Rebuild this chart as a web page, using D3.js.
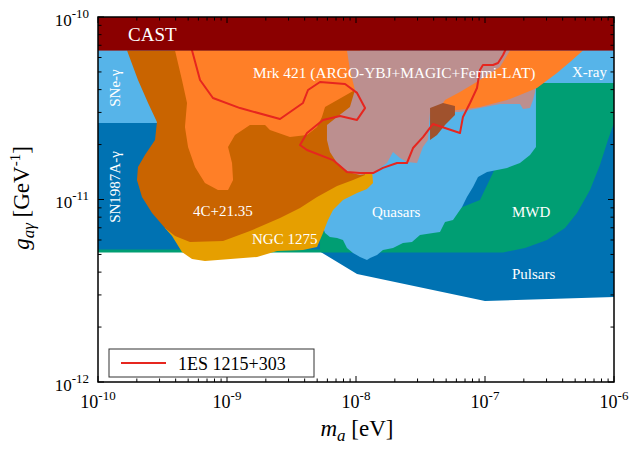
<!DOCTYPE html>
<html><head><meta charset="utf-8">
<script src="https://cdn.jsdelivr.net/npm/d3@7"></script>
<style>body{margin:0;background:#fff}svg{display:block}text{font-family:"Liberation Serif","Times New Roman",serif}</style>
</head><body><svg id="c" width="640" height="450"></svg>
<script>
// ---- data: vertices as [log10(m_a / eV), log10(g / GeV^-1)] ----
const xDomain = [1e-10, 1e-6];
const yDomain = [1e-12, 1e-10];
const xMajor = [-10, -9, -8, -7, -6];
const yMajor = [-12, -11, -10];

const castLimit = -10.184;

const pulsars = [[-10,-10.184],[-6,-10.184],[-6,-11.534],[-7,-11.556],[-7.992,-11.408],[-8.287,-11.282],[-10,-11.282]];

const mwd = [[-10,-11.274],[-10,-11.290],[-6.860,-11.290],[-6.690,-11.266],[-6.519,-11.222],[-6.380,-11.156],[-6.287,-11.074],[-6.186,-10.948],[-6.109,-10.811],[-6.047,-10.674],[-6,-10.581],[-6,-10.362],[-6.605,-10.362],[-7.039,-11.003],[-7.659,-11.178],[-8.279,-11.178],[-8.279,-11.274]];

const lightBlue = [[-10,-10.184],[-6,-10.184],[-6,-10.362],[-6.605,-10.362],[-6.605,-10.712],[-6.651,-10.756],[-6.729,-10.800],[-6.829,-10.827],[-6.984,-10.849],[-7.054,-10.877],[-7.093,-10.932],[-7.140,-10.986],[-7.178,-11.041],[-7.248,-11.112],[-7.310,-11.123],[-7.349,-11.178],[-7.403,-11.184],[-7.504,-11.195],[-7.566,-11.233],[-7.636,-11.238],[-7.713,-11.266],[-7.791,-11.277],[-7.837,-11.304],[-7.891,-11.321],[-7.915,-11.332],[-7.969,-11.315],[-8.023,-11.293],[-8.070,-11.266],[-8.101,-11.222],[-8.147,-11.211],[-8.202,-11.205],[-8.240,-11.184],[-8.279,-11.112],[-8.822,-10.893],[-9.519,-10.581],[-10,-10.581]];

const ngc1275 = [[-9.481,-11.156],[-9.426,-11.200],[-9.349,-11.288],[-9.271,-11.326],[-9.171,-11.337],[-8.767,-11.315],[-8.612,-11.282],[-8.411,-11.277],[-8.302,-11.260],[-8.256,-11.184],[-8.217,-11.112],[-8.178,-11.058],[-8.101,-11.003],[-7.992,-10.964],[-7.915,-10.942],[-7.868,-10.910],[-7.876,-10.838],[-8.434,-10.948],[-9.209,-11.112]];

const c4_2135 = [[-9.775,-10.184],[-7.969,-10.184],[-7.930,-10.564],[-7.930,-10.866],[-8.023,-10.893],[-8.147,-10.926],[-8.302,-10.986],[-8.434,-11.047],[-8.589,-11.101],[-8.822,-11.173],[-9.031,-11.227],[-9.287,-11.233],[-9.403,-11.200],[-9.481,-11.156],[-9.581,-11.074],[-9.659,-10.986],[-9.698,-10.893],[-9.690,-10.822],[-9.636,-10.756],[-9.558,-10.674],[-9.543,-10.575],[-9.612,-10.471],[-9.690,-10.345]];

const mrk421Low = [[-9.403,-10.184],[-7.969,-10.184],[-8.008,-10.400],[-8.240,-10.493],[-8.264,-10.548],[-8.302,-10.603],[-8.380,-10.647],[-8.512,-10.658],[-8.667,-10.619],[-8.705,-10.592],[-8.822,-10.592],[-8.938,-10.647],[-8.992,-10.712],[-8.961,-10.800],[-8.953,-10.893],[-8.992,-10.948],[-9.070,-10.948],[-9.171,-10.910],[-9.248,-10.822],[-9.302,-10.712],[-9.326,-10.603],[-9.310,-10.471],[-9.349,-10.345]];

const pinkRegion = [[-8.070,-10.184],[-6.605,-10.184],[-6.605,-10.362],[-6.612,-10.411],[-6.628,-10.455],[-6.651,-10.499],[-6.705,-10.504],[-6.729,-10.477],[-6.884,-10.477],[-7.194,-10.521],[-7.426,-10.521],[-7.442,-10.674],[-7.481,-10.712],[-7.527,-10.800],[-7.605,-10.795],[-7.659,-10.773],[-7.713,-10.740],[-7.760,-10.800],[-7.868,-10.855],[-7.969,-10.866],[-8.062,-10.849],[-8.147,-10.800],[-8.202,-10.740],[-8.225,-10.674],[-8.225,-10.592],[-8.147,-10.548],[-8.047,-10.493],[-8.008,-10.400],[-8.047,-10.290]];

const mrk421High = [[-6.806,-10.184],[-6.240,-10.184],[-6.341,-10.247],[-6.442,-10.307],[-6.597,-10.389],[-6.729,-10.427],[-6.829,-10.455],[-7.039,-10.493],[-7.271,-10.515],[-7.349,-10.499],[-7.310,-10.455],[-7.194,-10.411],[-7.039,-10.345],[-6.884,-10.274]];

const overlap = [[-7.426,-10.499],[-7.326,-10.471],[-7.233,-10.488],[-7.233,-10.537],[-7.310,-10.592],[-7.372,-10.647],[-7.426,-10.674]];

const es1215 = [[-9.271,-10.126],[-9.271,-10.184],[-9.209,-10.345],[-9.109,-10.444],[-8.899,-10.499],[-8.589,-10.559],[-8.411,-10.471],[-8.372,-10.400],[-8.279,-10.356],[-8.085,-10.367],[-7.992,-10.416],[-7.930,-10.499],[-7.992,-10.564],[-8.124,-10.542],[-8.256,-10.564],[-8.380,-10.636],[-8.434,-10.701],[-8.380,-10.729],[-8.178,-10.784],[-8.070,-10.849],[-7.969,-10.855],[-7.868,-10.855],[-7.791,-10.827],[-7.682,-10.800],[-7.605,-10.800],[-7.558,-10.718],[-7.481,-10.658],[-7.403,-10.586],[-7.333,-10.603],[-7.194,-10.636],[-7.171,-10.548],[-7.116,-10.471],[-7.062,-10.389],[-7.039,-10.290],[-7.016,-10.263],[-6.938,-10.263],[-6.899,-10.252],[-6.860,-10.208],[-6.806,-10.126]];

const colors = {pulsars:"#0072B2", mwd:"#009E73", light:"#56B4E9", ngc:"#E69F00", c4:"#C96400", mrk:"#FF7F27", pink:"#BC8F8F", overlap:"#A0522D", cast:"#8B0000", line:"#E6261F"};

// ---- drawing ----
const svg = d3.select("#c");
const L=98, R=614, T=17, B=382;
const xs = d3.scaleLog().domain(xDomain).range([L,R]);
const ys = d3.scaleLog().domain(yDomain).range([B,T]);
const line = d3.line().x(d=>xs(Math.pow(10,d[0]))).y(d=>ys(Math.pow(10,d[1])));

svg.append("clipPath").attr("id","pc").append("rect").attr("x",L).attr("y",T).attr("width",R-L).attr("height",B-T);
const g = svg.append("g").attr("clip-path","url(#pc)");
function poly(pts, col){ g.append("path").attr("d", line(pts)+"Z").attr("fill", col).attr("stroke","none"); }
poly(pulsars, colors.pulsars);
poly(mwd, colors.mwd);
poly(lightBlue, colors.light);
poly(ngc1275, colors.ngc);
poly(c4_2135, colors.c4);
poly(mrk421Low, colors.mrk);
poly(pinkRegion, colors.pink);
poly(mrk421High, colors.mrk);
poly(overlap, colors.overlap);
g.append("path").attr("d", line(es1215)).attr("fill","none").attr("stroke",colors.line).attr("stroke-width",2).attr("stroke-linejoin","round");
g.append("rect").attr("x",L).attr("y",ys(1e-10)).attr("width",R-L).attr("height",ys(Math.pow(10,castLimit))-ys(1e-10)).attr("fill",colors.cast);

// region labels
function lab(txt,x,y,size,rot){
  const t = svg.append("text").attr("fill","#fff").attr("font-size",size).text(txt);
  if(rot){ t.attr("transform",`translate(${x},${y}) rotate(-90)`).attr("text-anchor","middle"); }
  else t.attr("x",x).attr("y",y);
}
lab("CAST",128,41,19);
lab("Mrk 421 (ARGO-YBJ+MAGIC+Fermi-LAT)",253,78,15.4);
lab("X-ray",572,77,15);
lab("SNe-\u03B3",120,88,15,true);
lab("SN1987A-\u03B3",120,187,15,true);
lab("4C+21.35",193,216,15);
lab("NGC 1275",252,244,15);
lab("Quasars",372,217,15);
lab("MWD",512,217,15);
lab("Pulsars",512,279,15);

// ticks
const ax = svg.append("g").attr("stroke","#000").attr("stroke-width",1);
const xt = xs.ticks(), yt = ys.ticks();
const isMaj = v => Math.abs(Math.log10(v)-Math.round(Math.log10(v)))<1e-6;
xt.forEach(v=>{ const x=xs(v), l=isMaj(v)?6:3.5;
  ax.append("line").attr("x1",x).attr("x2",x).attr("y1",B).attr("y2",B-l);
  ax.append("line").attr("x1",x).attr("x2",x).attr("y1",T).attr("y2",T+l);});
yt.forEach(v=>{ const y=ys(v), l=isMaj(v)?6:3.5;
  ax.append("line").attr("x1",L).attr("x2",L+l).attr("y1",y).attr("y2",y);
  ax.append("line").attr("x1",R).attr("x2",R-l).attr("y1",y).attr("y2",y);});
svg.append("rect").attr("x",L).attr("y",T).attr("width",R-L).attr("height",B-T).attr("fill","none").attr("stroke","#000").attr("stroke-width",1.5);

// tick labels
function pow10(sel, e, big, small){
  sel.append("tspan").attr("font-size",big).text("10");
  sel.append("tspan").attr("font-size",small).attr("dy",-8).text("-"+Math.abs(e));
}
xMajor.forEach(e=>{ const t=svg.append("text").attr("x",xs(Math.pow(10,e))).attr("y",408).attr("text-anchor","middle"); pow10(t,e,18,13); });
yMajor.forEach(e=>{ const t=svg.append("text").attr("x",89).attr("y",ys(Math.pow(10,e))+8.5).attr("text-anchor","end"); pow10(t,e,17,13); });

// axis titles
const xtitle = svg.append("text").attr("x",357).attr("y",436).attr("text-anchor","middle").attr("font-size",23);
xtitle.append("tspan").attr("font-style","italic").text("m");
xtitle.append("tspan").attr("font-style","italic").attr("font-size",17).attr("dy",5).text("a");
xtitle.append("tspan").attr("dy",-5).text(" [eV]");
const ytitle = svg.append("text").attr("transform","translate(29,198) rotate(-90)").attr("text-anchor","middle").attr("font-size",23);
ytitle.append("tspan").attr("font-style","italic").text("g");
ytitle.append("tspan").attr("font-style","italic").attr("font-size",17).attr("dy",5).text("a\u03B3");
ytitle.append("tspan").attr("dy",-5).text(" [GeV");
ytitle.append("tspan").attr("font-size",15).attr("dy",-9).text("-1");
ytitle.append("tspan").attr("dy",9).text("]");

// legend
const lg = svg.append("g");
lg.append("rect").attr("x",109).attr("y",349).attr("width",205).attr("height",28).attr("fill","#fff").attr("stroke","#333").attr("stroke-width",1);
lg.append("line").attr("x1",121).attr("x2",166).attr("y1",363).attr("y2",363).attr("stroke",colors.line).attr("stroke-width",2);
lg.append("text").attr("x",178).attr("y",370).attr("font-size",18).text("1ES 1215+303");
</script></body></html>
